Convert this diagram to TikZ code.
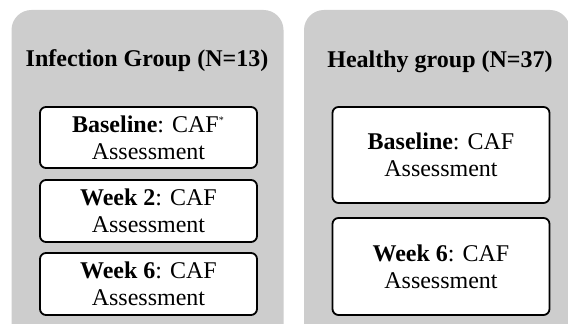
\documentclass[tikz,border=0pt]{standalone}
\usepackage{fontspec}
\setmainfont{Liberation Serif}
\usepackage{tikz}
\usetikzlibrary{positioning}
\usepackage{xcolor}
\definecolor{panelgray}{RGB}{205,205,205}

\begin{document}
\begin{tikzpicture}[x=0.5pt,y=-0.5pt,font=\fontsize{12}{13.5}\selectfont]
    \tikzset{g/.style={fill=panelgray,rounded corners=10pt,inner sep=0pt},
             t/.style={font=\fontsize{12}{14}\selectfont\bfseries},
             b/.style={rounded corners=3pt,draw,line width=0.9pt,fill=white,align=center,minimum width=108.5pt,inner sep=2pt}}
    \useasboundingbox (0,0) rectangle (568,324);
    \clip (0,0) rectangle (568,324);
    % two group panels, cut off at the bottom
    \node[g,minimum width=136pt,minimum height=170pt] (inf) at (147.5,180) {};
    \node[g,minimum width=133pt,minimum height=170pt] (hea) at (437,180) {};
    \node[t] (tinf) at (147,61) {Infection Group (N=13)};
    \node[t] (thea) at (440,62) {Healthy group (N=37)};
    % infection group visits
    \node[b,minimum height=30.5pt] (i1) at (148.5,137.5) {\textbf{Baseline}: CAF\textsuperscript{\tiny*}\\Assessment};
    \node[b,minimum height=31pt] (i2) at (148.5,211) {\textbf{Week 2}: CAF\\Assessment};
    \node[b,minimum height=31pt] (i3) at (148.5,284) {\textbf{Week 6}: CAF\\Assessment};
    % healthy group visits
    \node[b,minimum height=48pt] (h1) at (441,155) {\textbf{Baseline}: CAF\\Assessment};
    \node[b,minimum height=48.5pt] (h2) at (441,266.5) {\textbf{Week 6}: CAF\\Assessment};
\end{tikzpicture}
\end{document}
